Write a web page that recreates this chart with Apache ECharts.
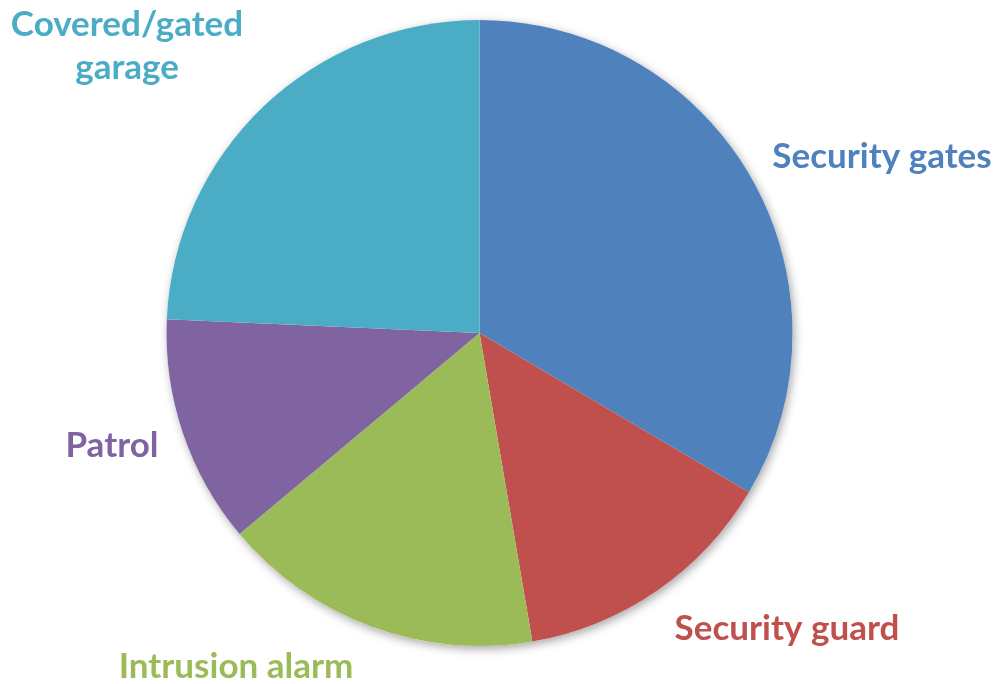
<!DOCTYPE html>
<html>
<head>
<meta charset="utf-8">
<script src="https://cdn.jsdelivr.net/npm/echarts@6/dist/echarts.min.js"></script>
<style>
  html, body { margin: 0; padding: 0; background: #ffffff; }
  #chart { width: 999px; height: 684px; }
</style>
</head>
<body>
<div id="chart"></div>
<script>
// Share of respondents by security feature (percent)
const categories = ['Security gates', 'Security guard', 'Intrusion alarm', 'Patrol', 'Covered/gated\ngarage'];
const shares = [33.5, 13.8, 16.6, 11.8, 24.3];
const colors = ['#4F81BD', '#C0504D', '#9BBB59', '#8064A2', '#4BACC6'];

// Label anchor points (pixel) for each slice's name
const labelSpots = [[882, 157], [787, 629], [236, 667], [112, 446], [127, 46]];

const chart = echarts.init(document.getElementById('chart'), null, { renderer: 'canvas' });

const pieCenter = [479.5, 333];
const pieRadius = 313;

chart.setOption({
  animation: false,
  backgroundColor: '#ffffff',
  series: [
    {
      // soft drop shadow beneath the whole pie
      type: 'pie',
      silent: true,
      center: pieCenter,
      radius: pieRadius,
      z: 1,
      label: { show: false },
      labelLine: { show: false },
      itemStyle: {
        color: '#ffffff',
        shadowBlur: 10,
        shadowOffsetX: 2,
        shadowOffsetY: 3,
        shadowColor: 'rgba(0,0,0,0.35)'
      },
      data: [{ value: 1, name: '' }]
    },
    {
      type: 'pie',
      center: pieCenter,
      radius: pieRadius,
      startAngle: 90,
      clockwise: true,
      z: 2,
      itemStyle: { borderWidth: 0 },
      emphasis: { disabled: true },
      labelLine: { show: false },
      label: {
        show: true,
        position: 'outside',
        formatter: '{b}',
        fontFamily: 'Lato',
        fontWeight: 'bold',
        fontSize: 35,
        lineHeight: 43,
        align: 'center',
        overflow: 'none',
        width: 400
      },
      labelLayout: function (params) {
        const p = labelSpots[params.dataIndex];
        return { x: p[0], y: p[1], align: 'center', verticalAlign: 'middle', hideOverlap: false, moveOverlap: false };
      },
      data: categories.map((name, i) => ({
        name: name,
        value: shares[i],
        itemStyle: { color: colors[i] },
        label: { color: colors[i] }
      }))
    }
  ]
});
</script>
</body>
</html>
